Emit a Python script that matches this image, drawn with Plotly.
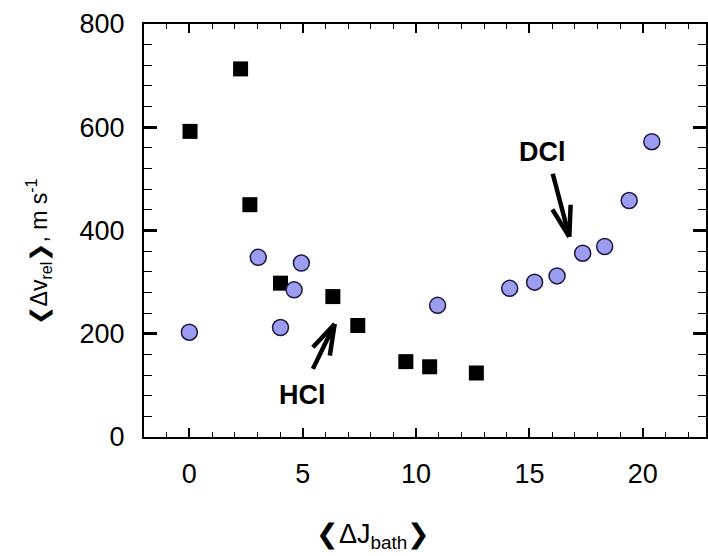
import math
import plotly.graph_objects as go

# ---- data ----
hcl_x = [0.03, 2.26, 2.67, 4.02, 6.33, 7.43, 9.55, 10.6, 12.66]
hcl_y = [592, 713, 450, 298, 272, 216, 146, 136, 124]
dcl_x = [0.0, 3.04, 4.02, 4.62, 4.94, 10.95, 14.13, 15.23, 16.22, 17.35, 18.32, 19.4, 20.4]
dcl_y = [203, 348, 212, 285, 337, 255, 288, 300, 312, 356, 369, 458, 572]
x_ticks = [0, 5, 10, 15, 20]
y_ticks = [0, 200, 400, 600, 800]

# labels and arrows (tail, tip) in data units
labels = [("HCl", 5.01, 82), ("DCl", 15.56, 553)]
arrows = [((5.45, 132), (6.41, 219)), ((16.03, 510), (16.76, 388))]

W, H = 708, 556
ML, MR, MT, MB = 144, 0, 24, 119
XR = [-2, 22.79]
YR = [0, 800]
PW, PH = W - ML - MR, H - MT - MB
sx = PW / (XR[1] - XR[0])
sy = PH / (YR[1] - YR[0])

FONT = "Liberation Sans, Arial, sans-serif"

fig = go.Figure()
fig.add_trace(go.Scatter(x=hcl_x, y=hcl_y, mode="markers", name="HCl",
                         marker=dict(symbol="square", size=15, color="black",
                                     line=dict(width=0))))
fig.add_trace(go.Scatter(x=dcl_x, y=dcl_y, mode="markers", name="DCl",
                         marker=dict(symbol="circle", size=16, color="#9c9cf0",
                                     line=dict(width=1.5, color="#1a1a40"))))

shapes = []
for (tx, ty), (hx, hy) in arrows:
    shapes.append(dict(type="line", xref="x", yref="y", x0=tx, y0=ty, x1=hx, y1=hy,
                       line=dict(color="black", width=4.5)))
    dx = (tx - hx) * sx
    dy = (ty - hy) * sy
    ang = math.atan2(dy, dx)
    L = 32
    for da in (0.3, -0.3):
        ex = hx + L * math.cos(ang + da) / sx
        ey = hy + L * math.sin(ang + da) / sy
        shapes.append(dict(type="line", xref="x", yref="y", x0=hx, y0=hy, x1=ex, y1=ey,
                           line=dict(color="black", width=4.5)))

annotations = []
for txt, x, y in labels:
    annotations.append(dict(x=x, y=y, xref="x", yref="y", text="<b>%s</b>" % txt,
                            showarrow=False, font=dict(family=FONT, size=27, color="black")))

# x-axis title
annotations.append(dict(x=(374 - ML) / PW, y=-(555 - (H - MB)) / PH,
                        xref="paper", yref="paper", yanchor="bottom", xanchor="center",
                        text="\u276eΔJ<sub>bath</sub>\u276f", showarrow=False,
                        font=dict(family=FONT, size=27, color="black")))
# y-axis title
annotations.append(dict(x=-(ML - 38) / PW, y=((H - MB) - 252) / PH,
                        xref="paper", yref="paper", textangle=-90,
                        xanchor="center", yanchor="middle",
                        text="\u276eΔv<sub>rel</sub>\u276f, m s<sup>-1</sup>", showarrow=False,
                        font=dict(family=FONT, size=23, color="black")))

axis_common = dict(showline=True, linecolor="black", linewidth=2, mirror="ticks",
                   ticks="inside", tickcolor="black", showgrid=False, zeroline=False,
                   tickfont=dict(family=FONT, size=27, color="black"))

fig.update_layout(
    width=W, height=H, margin=dict(l=ML, r=MR, t=MT, b=MB),
    plot_bgcolor="white", paper_bgcolor="white", showlegend=False,
    xaxis=dict(range=XR, tickvals=x_ticks, ticklen=9, tickwidth=1.5,
               minor=dict(dtick=1, tick0=0, ticklen=5, ticks="inside", tickcolor="black", tickwidth=1.2),
               ticklabelstandoff=12, **axis_common),
    yaxis=dict(range=YR, tickvals=y_ticks, ticklen=13, tickwidth=2.5,
               minor=dict(dtick=40, tick0=0, ticklen=8, ticks="inside", tickcolor="black", tickwidth=1.2),
               ticklabelstandoff=12, **axis_common),
    shapes=shapes, annotations=annotations,
)

fig.write_html("out.html")
